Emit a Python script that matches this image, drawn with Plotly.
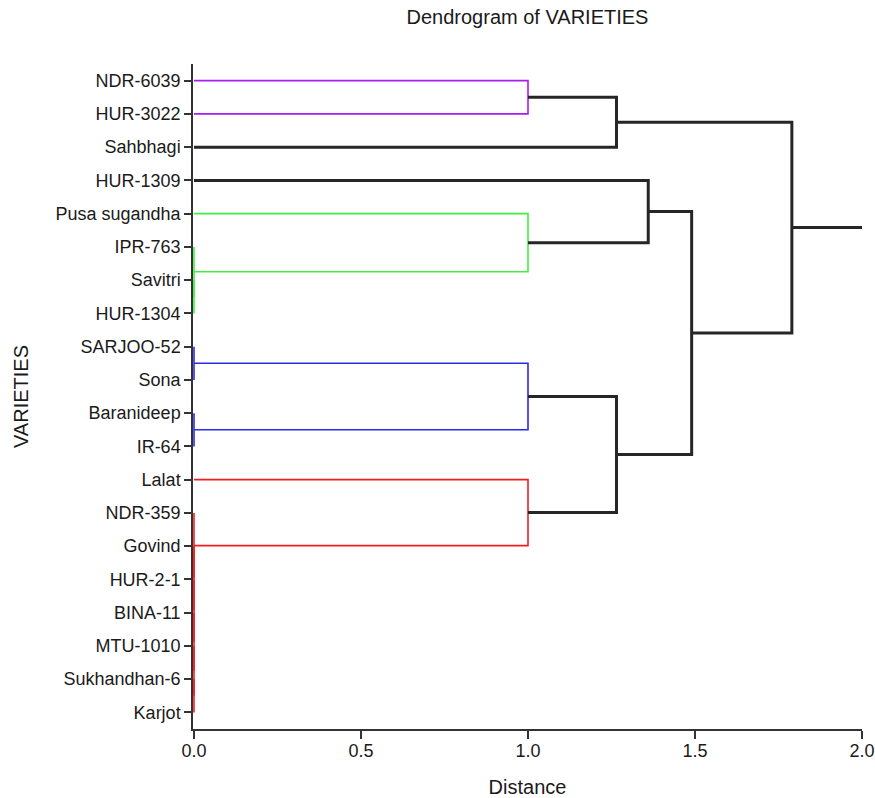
import plotly.graph_objects as go

# ---- data ----
leaves = ["NDR-6039", "HUR-3022", "Sahbhagi", "HUR-1309", "Pusa sugandha", "IPR-763",
          "Savitri", "HUR-1304", "SARJOO-52", "Sona", "Baranideep", "IR-64", "Lalat",
          "NDR-359", "Govind", "HUR-2-1", "BINA-11", "MTU-1010", "Sukhandhan-6", "Karjot"]

# linkage: each merge joins left + right at a distance, creating a new node
link_left = ["NDR-6039", "P1", "Savitri", "IPR-763", "Pusa sugandha", "HUR-1309",
             "SARJOO-52", "Baranideep", "B1", "Sukhandhan-6", "MTU-1010", "BINA-11",
             "HUR-2-1", "Govind", "NDR-359", "Lalat", "B3", "G4", "P2"]
link_right = ["HUR-3022", "Sahbhagi", "HUR-1304", "G1", "G2", "G3",
              "Sona", "IR-64", "B2", "Karjot", "R1", "R2",
              "R3", "R4", "R5", "R6", "R7", "BR", "GBR"]
link_node = ["P1", "P2", "G1", "G2", "G3", "G4",
             "B1", "B2", "B3", "R1", "R2", "R3",
             "R4", "R5", "R6", "R7", "BR", "GBR", "ROOT"]
link_dist = [1.0, 1.265, 0.0, 0.0, 1.0, 1.36,
             0.0, 0.0, 1.0, 0.0, 0.0, 0.0,
             0.0, 0.0, 0.0, 1.0, 1.265, 1.49, 1.79]
link_group = ["purple", "black", "green", "green", "green", "black",
              "blue", "blue", "blue", "red", "red", "red",
              "red", "red", "red", "red", "black", "black", "black"]
root_stem_end = 2.0

group_colors = {"purple": "#a81cf5", "green": "#40f040", "blue": "#2a2ae8",
                "red": "#f51c1c", "black": "#262626"}
group_widths = {"purple": 1.6, "green": 1.6, "blue": 1.6, "red": 1.6, "black": 3}

# ---- compute dendrogram coordinates ----
pos = {name: i for i, name in enumerate(leaves)}
height = {name: 0.0 for name in leaves}
segs = {g: ([], []) for g in group_colors}
for l, r, n, d, g in zip(link_left, link_right, link_node, link_dist, link_group):
    xs, ys = segs[g]
    xs += [height[l], d, d, height[r], None]
    ys += [pos[l], pos[l], pos[r], pos[r], None]
    pos[n] = (pos[l] + pos[r]) / 2
    height[n] = d
xs, ys = segs["black"]
xs += [height["ROOT"], root_stem_end, None]
ys += [pos["ROOT"], pos["ROOT"], None]

fig = go.Figure()
for g in ["purple", "green", "blue", "red", "black"]:
    xs, ys = segs[g]
    fig.add_trace(go.Scatter(x=xs, y=ys, mode="lines",
                             line=dict(color=group_colors[g], width=group_widths[g]),
                             hoverinfo="skip", showlegend=False))

font = "Liberation Sans, Arial, sans-serif"
fig.update_layout(
    width=875, height=798,
    margin=dict(l=193, r=13, t=64, b=69),
    paper_bgcolor="white", plot_bgcolor="white",
    font=dict(family=font, color="#1a1a1a", size=18),
    title=dict(text="Dendrogram of VARIETIES", x=0.5, xref="paper", xanchor="center",
               y=1 - 17 / 798, yref="container", yanchor="middle",
               font=dict(size=20, family=font, color="#1a1a1a")),
    showlegend=False,
)
fig.update_xaxes(range=[-0.003, 2.0], tickvals=[0, 0.5, 1.0, 1.5, 2.0],
                 ticktext=["0.0", "0.5", "1.0", "1.5", "2.0"],
                 showgrid=False, zeroline=False, showline=True, linecolor="#333333",
                 linewidth=1.5, ticks="outside", ticklen=8, tickwidth=1.5, tickcolor="#333333",
                 tickfont=dict(size=18), layer="below traces", ticklabelstandoff=-3,
                 title=dict(text="Distance", font=dict(size=20), standoff=22),
                 automargin=False)
fig.update_yaxes(range=[19.5, -0.5], tickvals=list(range(len(leaves))), ticktext=leaves,
                 showgrid=False, zeroline=False, showline=True, linecolor="#333333",
                 linewidth=1.5, ticks="outside", ticklen=7, tickwidth=1.5, tickcolor="#333333",
                 tickfont=dict(size=18), layer="below traces",
                 title=dict(text="VARIETIES", font=dict(size=20), standoff=22),
                 automargin=False)

fig.write_html("out.html", config={"displayModeBar": False},
               post_script="document.body.style.margin='0';")
